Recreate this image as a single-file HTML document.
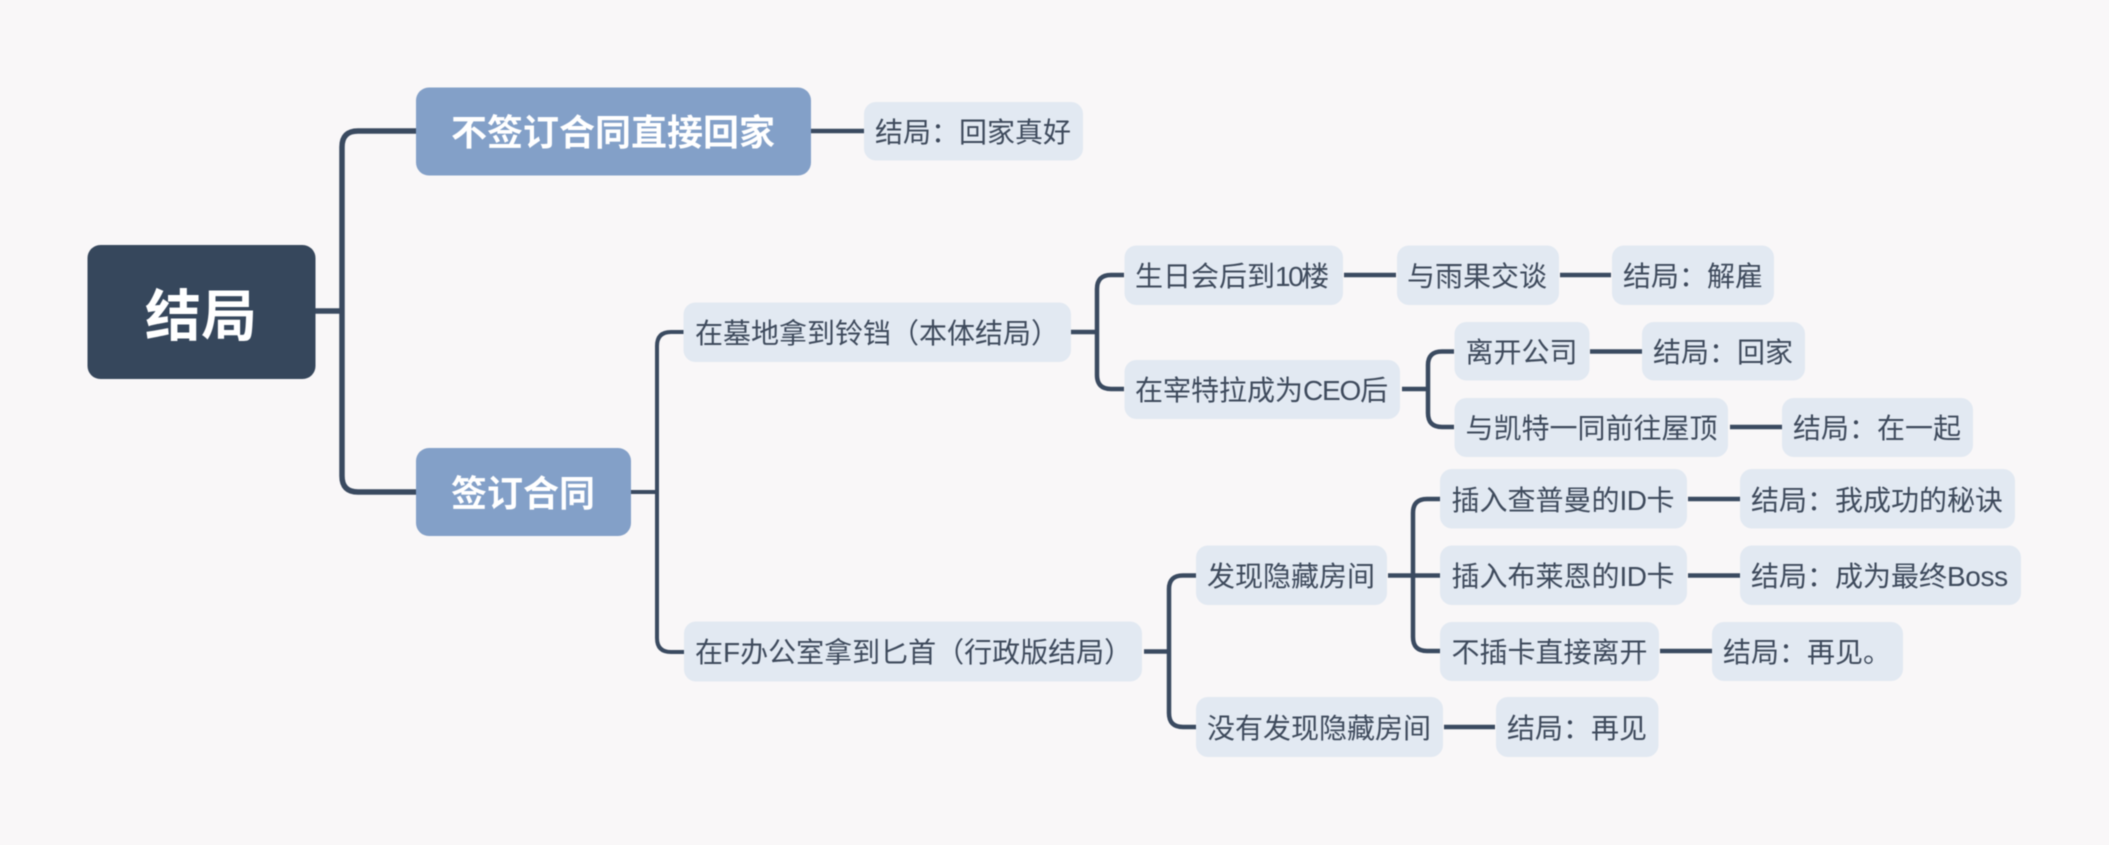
<!DOCTYPE html>
<html><head><meta charset="utf-8"><style>
html,body{margin:0;padding:0;background:#f9f7f8;width:2109px;height:845px;overflow:hidden}
svg{display:block;filter:blur(.45px)}
text{font-family:"Liberation Sans","Noto Sans CJK SC",sans-serif}
.n{fill:#e2e9f2}
.t{font-size:28px;fill:#3e4a5c}
.b{font-size:36px;font-weight:700;fill:#fff}
.l{fill:none;stroke:#3a4a60;stroke-width:4.5}
</style></head><body>
<svg width="2109" height="845" viewBox="0 0 2109 845" xmlns="http://www.w3.org/2000/svg">
<rect width="2109" height="845" fill="#f9f7f8"/>
<!-- connectors -->
<path d="M315 311H342M416 131H358Q342 131 342 147V476Q342 492 358 492H416" fill="none" stroke="#3a4a60" stroke-width="5.5"/>
<path class="l" d="M811 131H864"/>
<path class="l" d="M631 492H657M684 332H671Q657 332 657 346V638Q657 652 671 652H684" style="stroke-width:4"/>
<path class="l" d="M1071 332H1097M1124 275H1111Q1097 275 1097 289V375Q1097 389 1111 389H1124"/>
<path class="l" d="M1344 275H1396M1560 275H1611"/>
<path class="l" d="M1402 389H1428M1454 351.500H1442Q1428 351.500 1428 365V413Q1428 427 1442 427H1454"/>
<path class="l" d="M1590 351.500H1642M1730 427H1782"/>
<path class="l" d="M1144 651.500H1169M1196 575.500H1183Q1169 575.500 1169 589V713Q1169 727 1183 727H1196"/>
<path class="l" d="M1444 727H1495"/>
<path class="l" d="M1388 575.500H1440M1440 499H1427Q1413 499 1413 513V637Q1413 651 1427 651H1440"/>
<path class="l" d="M1688 499H1740M1688 575.500H1740M1660 651H1712"/>
<!-- root and level 1 -->
<rect x="87.500" y="245" width="228" height="134" rx="13" fill="#36475c"/>
<text x="145" y="336" font-size="56" font-weight="700" fill="#fff">结局</text>
<rect x="416" y="87.500" width="395" height="88" rx="13" fill="#83a0c8"/>
<text x="451" y="145" class="b">不签订合同直接回家</text>
<rect x="416" y="448" width="215" height="88" rx="13" fill="#83a0c8"/>
<text x="451" y="506" class="b">签订合同</text>
<!-- nodes -->
<rect class="n" x="864" y="102" width="219" height="58.500" rx="12"/><text class="t" x="875" y="142">结局：回家真好</text>
<rect class="n" x="683.500" y="302.500" width="387.500" height="59.500" rx="12"/><text class="t" x="695" y="343">在墓地拿到铃铛（本体结局）</text>
<rect class="n" x="1124.500" y="245.500" width="218.500" height="59.500" rx="12"/><text class="t" x="1135" y="286">生日会后到<tspan letter-spacing="-2.500">10</tspan>楼</text>
<rect class="n" x="1397" y="245.500" width="162" height="59.500" rx="12"/><text class="t" x="1407" y="286">与雨果交谈</text>
<rect class="n" x="1612" y="245.500" width="162" height="59.500" rx="12"/><text class="t" x="1623" y="286">结局：解雇</text>
<rect class="n" x="1124.500" y="360" width="275.500" height="59" rx="12"/><text class="t" x="1135" y="400">在宰特拉成为<tspan letter-spacing="-1.200">CEO</tspan>后</text>
<rect class="n" x="1454.500" y="322" width="135" height="58.500" rx="12"/><text class="t" x="1465.500" y="362">离开公司</text>
<rect class="n" x="1642" y="322" width="163" height="58.500" rx="12"/><text class="t" x="1653" y="362">结局：回家</text>
<rect class="n" x="1454.500" y="398" width="273.500" height="59" rx="12"/><text class="t" x="1465.500" y="438">与凯特一同前往屋顶</text>
<rect class="n" x="1782" y="398" width="191" height="59" rx="12"/><text class="t" x="1793" y="438">结局：在一起</text>
<rect class="n" x="684" y="621.500" width="458" height="60" rx="12"/><text class="t" x="695" y="662">在F办公室拿到匕首（行政版结局）</text>
<rect class="n" x="1196" y="545.500" width="191" height="59.500" rx="12"/><text class="t" x="1207" y="586">发现隐藏房间</text>
<rect class="n" x="1196" y="697" width="247" height="60" rx="12"/><text class="t" x="1207" y="738">没有发现隐藏房间</text>
<rect class="n" x="1496" y="697" width="162.500" height="60" rx="12"/><text class="t" x="1507" y="738">结局：再见</text>
<rect class="n" x="1440" y="469" width="247" height="59.500" rx="12"/><text class="t" x="1451.500" y="510">插入查普曼的<tspan letter-spacing="-.5">ID</tspan>卡</text>
<rect class="n" x="1740" y="469" width="275" height="59.500" rx="12"/><text class="t" x="1751" y="510">结局：我成功的秘诀</text>
<rect class="n" x="1440" y="545.500" width="247" height="59.500" rx="12"/><text class="t" x="1451.500" y="586">插入布莱恩的<tspan letter-spacing="-.5">ID</tspan>卡</text>
<rect class="n" x="1740" y="545.500" width="281" height="59.500" rx="12"/><text class="t" x="1751" y="586">结局：成为最终<tspan letter-spacing="-.4">Boss</tspan></text>
<rect class="n" x="1440" y="622" width="219" height="59" rx="12"/><text class="t" x="1451.500" y="662">不插卡直接离开</text>
<rect class="n" x="1712" y="622" width="191" height="59" rx="12"/><text class="t" x="1723" y="662">结局：再见。</text>
</svg>
</body></html>
